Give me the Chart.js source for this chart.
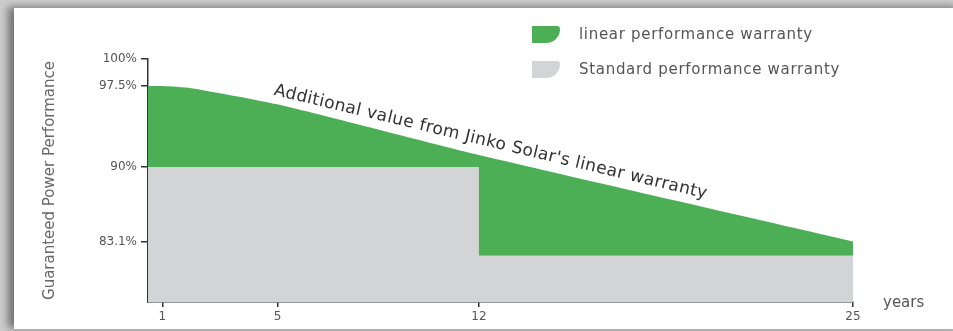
<!DOCTYPE html>
<html>
<head>
<meta charset="utf-8">
<script src="https://cdn.jsdelivr.net/npm/chart.js@4.4.0/dist/chart.umd.min.js"></script>
<style>
  html, body { margin: 0; padding: 0; }
  body {
    width: 953px; height: 331px; overflow: hidden; position: relative;
    background: #cdcdcd;
    font-family: "DejaVu Sans", sans-serif;
  }
  #card {
    position: absolute; left: 14px; top: 8px; width: 950px; height: 321px;
    background: #fff;
    box-shadow: -6px -1px 8px rgba(0, 0, 0, 0.45);
  }
  #chart { position: absolute; left: 0; top: 0; }
  #legend { position: absolute; left: 532px; top: 25px; }
  .item { display: flex; align-items: center; height: 18px; margin-bottom: 17px; }
  .box {
    width: 28px; height: 17px; margin-right: 19px;
    border-radius: 1px 4px 17px 1px / 1px 4px 17px 1px;
  }
  .label { font-size: 15px; letter-spacing: 0.7px; color: #555; white-space: nowrap; }
</style>
</head>
<body>
<div id="card"></div>
<canvas id="chart" width="953" height="331"></canvas>
<div id="legend"></div>
<script>
// linear warranty (top curve), years -> guaranteed %
const linearYears = [0.5, 1, 2, 5, 12, 25];
const linearValues = [97.5, 97.5, 97.3, 95.8, 91.1, 83.1];

// standard step warranty
const standardYears = [0.5, 12, 12, 25];
const standardValues = [90, 90, 81.8, 81.8];

const yTickValues = [100, 97.5, 90, 83.1];
const xTickValues = [1, 5, 12, 25];

const seriesLabels = ['linear performance warranty', 'Standard performance warranty'];
const seriesColors = ['#4caf55', '#d3d4d5'];

const noteText = "Additional value from Jinko Solar's linear warranty";
const noteAt = [4.85, 96.7];

Chart.defaults.font.family = '"DejaVu Sans", sans-serif';

const toPoints = (xs, ys) => xs.map((x, i) => ({ x: x, y: ys[i] }));

// text drawn on the chart: slanted note and "years" axis word
const notesPlugin = {
  id: 'notes',
  afterDraw(chart) {
    const { ctx, scales: { x, y }, chartArea } = chart;
    ctx.save();
    ctx.translate(x.getPixelForValue(noteAt[0]), y.getPixelForValue(noteAt[1]));
    ctx.rotate(13.5 * Math.PI / 180);
    ctx.font = '17px "DejaVu Sans"';
    ctx.letterSpacing = '0.4px';
    ctx.fillStyle = '#333';
    ctx.textBaseline = 'alphabetic';
    ctx.fillText(noteText, 0, 0);
    ctx.restore();

    ctx.save();
    ctx.font = '15px "DejaVu Sans"';
    ctx.fillStyle = '#555';
    ctx.textBaseline = 'middle';
    ctx.fillText('years', chartArea.right + 30, chartArea.bottom + 1);
    ctx.restore();
  }
};

const chart = new Chart(document.getElementById('chart'), {
  type: 'line',
  data: {
    datasets: [{
      label: seriesLabels[1],
      data: toPoints(standardYears, standardValues),
      backgroundColor: seriesColors[1],
      borderWidth: 0,
      pointRadius: 0,
      fill: 'start'
    }, {
      label: seriesLabels[0],
      data: toPoints(linearYears, linearValues),
      backgroundColor: seriesColors[0],
      borderWidth: 0,
      pointRadius: 0,
      tension: 0.2,
      fill: 'start'
    }]
  },
  options: {
    responsive: false,
    animation: false,
    layout: { padding: { top: 59, right: 100, bottom: 0, left: 0 } },
    plugins: { legend: { display: false }, tooltip: { enabled: false } },
    scales: {
      x: {
        type: 'linear',
        min: 0.5,
        max: 25,
        afterBuildTicks: s => { s.ticks = xTickValues.map(v => ({ value: v })); },
        afterFit: s => { s.height = 29; },
        grid: { drawOnChartArea: false, drawTicks: true, tickLength: 5, color: '#333', lineWidth: 1.5 },
        border: { color: '#333', width: 1.5 },
        ticks: { color: '#555', font: { size: 12 }, padding: 3, maxRotation: 0, autoSkip: false }
      },
      y: {
        min: 77.5,
        max: 100,
        afterBuildTicks: s => { s.ticks = yTickValues.map(v => ({ value: v })); },
        afterFit: s => { s.width = 148; },
        grid: { drawOnChartArea: false, drawTicks: true, tickLength: 7, color: '#333', lineWidth: 1.5 },
        border: { color: '#333', width: 1.5 },
        ticks: { color: '#555', font: { size: 12 }, padding: 4, callback: v => v + '%' },
        title: {
          display: true,
          text: 'Guaranteed Power Performance',
          color: '#666',
          font: { size: 15 },
          padding: { top: 41, bottom: 0 }
        }
      }
    }
  },
  plugins: [notesPlugin]
});

// html legend built from the datasets
const legend = document.getElementById('legend');
[1, 0].forEach(i => {
  const ds = chart.data.datasets[i];
  const item = document.createElement('div');
  item.className = 'item';
  item.innerHTML = '<div class="box" style="background:' + ds.backgroundColor + '"></div><span class="label">' + ds.label + '</span>';
  legend.appendChild(item);
});
</script>
</body>
</html>
